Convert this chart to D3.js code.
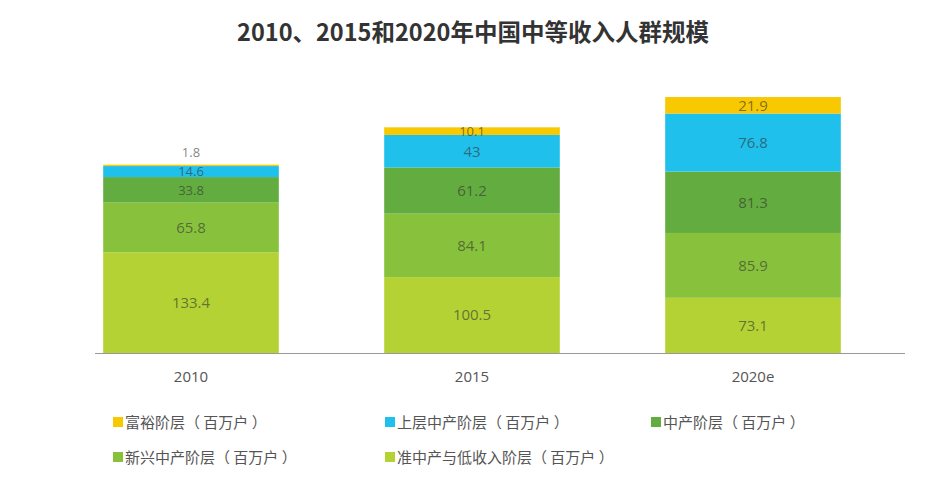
<!DOCTYPE html>
<html><head><meta charset="utf-8">
<script src="https://cdn.jsdelivr.net/npm/d3@7"></script>
<style>
html,body{margin:0;padding:0;background:#fff;}
svg{display:block;font-family:"Noto Sans CJK SC","Noto Sans",sans-serif;}
</style></head>
<body><svg id="c" width="946" height="483"></svg>
<script>
const categories = ["2010", "2015", "2020e"];
const seriesNames = ["准中产与低收入阶层（百万户）", "新兴中产阶层（百万户）", "中产阶层（百万户）", "上层中产阶层（百万户）", "富裕阶层（百万户）"];
const lowIncome = [133.4, 100.5, 73.1];
const emerging = [65.8, 84.1, 85.9];
const middle = [33.8, 61.2, 81.3];
const upperMiddle = [14.6, 43, 76.8];
const affluent = [1.8, 10.1, 21.9];
const colors = ["#B4D234", "#88C23C", "#63AC3F", "#20C0EC", "#F8C800"];
const legendOrder = [4, 3, 2, 1, 0];
const title = "2010、2015和2020年中国中等收入人群规模";

const svg = d3.select("#c");
const seriesVals = [lowIncome, emerging, middle, upperMiddle, affluent];
const table = categories.map((c, i) => {
  const o = {cat: c};
  seriesNames.forEach((s, k) => o[s] = seriesVals[k][i]);
  return o;
});
const stack = d3.stack().keys(seriesNames)(table);

const x = d3.scaleBand().domain(categories).range([47, 897]).paddingInner(0.375).paddingOuter(0.2);
const y = d3.scaleLinear().domain([0, 350]).range([353, 88.75]);

svg.append("text").attr("x", 473).attr("y", 41).attr("text-anchor", "middle")
  .attr("font-size", 23.5).attr("font-weight", "bold").attr("fill", "#333").text(title);

const g = svg.append("g");
stack.forEach((layer, k) => {
  g.selectAll(null).data(layer).enter().append("rect")
    .attr("x", d => x(d.data.cat)).attr("width", x.bandwidth())
    .attr("y", d => y(d[1])).attr("height", d => y(d[0]) - y(d[1]))
    .attr("fill", colors[k]);
});
const segH = d => y(d[0]) - y(d[1]);
stack.forEach((layer, k) => {
  g.selectAll(null).data(layer).enter().append("text")
    .attr("x", d => x(d.data.cat) + x.bandwidth() / 2)
    .attr("y", d => segH(d) < 5 ? y(d[1]) - 12 : (y(d[0]) + y(d[1])) / 2)
    .attr("dy", "0.36em").attr("text-anchor", "middle")
    .attr("font-size", (d, i) => {
      const h = segH(d);
      const above = stack[k + 1] ? segH(stack[k + 1][i]) : Infinity;
      return (h < 15 || (h < 30 && above < 15)) ? 13 : 15;
    })
    .attr("fill", "#333").attr("fill-opacity", 0.62)
    .attr("font-family", "'Open Sans','Noto Sans',sans-serif")
    .text(d => d.data[layer.key]);
});

const axis = svg.append("g").attr("transform", "translate(0,353)")
  .call(d3.axisBottom(x).tickSize(0).tickPadding(18));
axis.select(".domain").attr("stroke", "#999").attr("d", "M95,0.5H905");
axis.selectAll("text").attr("font-size", 15).attr("fill", "#555")
  .attr("font-family", "'Open Sans','Noto Sans',sans-serif");

const legX = [113, 385, 651];
const legY = [423, 458];
legendOrder.forEach((k, i) => {
  const lx = legX[i % 3], ly = legY[Math.floor(i / 3)];
  svg.append("rect").attr("x", lx).attr("y", ly - 6).attr("width", 10).attr("height", 10).attr("fill", colors[k]);
  svg.append("text").attr("x", lx + 12).attr("y", ly).attr("dy", "0.35em")
    .attr("font-size", 15).attr("fill", "#555").text(seriesNames[k].replace("（", "（ ").replace("）", " ）"));
});
</script></body></html>
